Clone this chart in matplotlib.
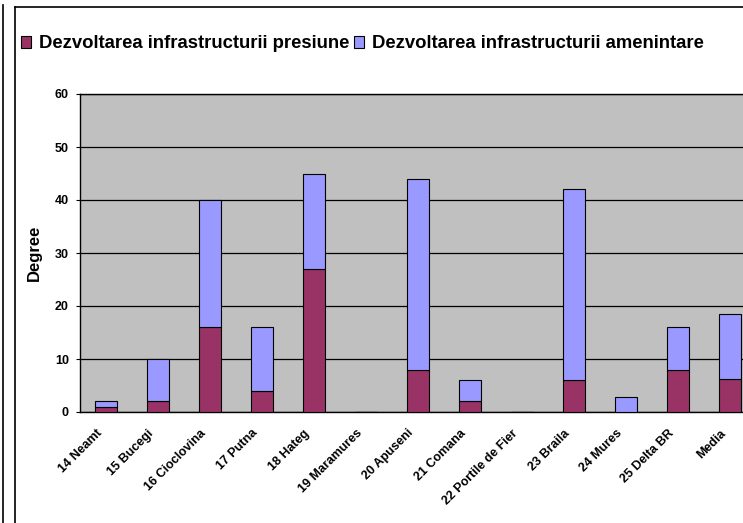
import matplotlib.pyplot as plt
import matplotlib.transforms as mtransforms
from matplotlib.patches import Patch
from matplotlib.lines import Line2D
import numpy as np

plt.rcParams['font.family'] = ['Liberation Sans', 'DejaVu Sans']

categories = ["14 Neamt", "15 Bucegi", "16 Cioclovina", "17 Putna", "18 Hateg",
              "19 Maramures", "20 Apuseni", "21 Comana", "22 Portile de Fier",
              "23 Braila", "24 Mures", "25 Delta BR", "Media"]
presiune = [1, 2, 16, 4, 27, 0, 8, 2, 0, 6, 0, 8, 6.2]
amenintare = [1, 8, 24, 12, 18, 0, 36, 4, 0, 36, 2.8, 8, 12.3]
yticks = [0, 10, 20, 30, 40, 50, 60]

W, H = 743, 523
fig = plt.figure(figsize=(W / 100, H / 100), dpi=100)
fig.patch.set_facecolor("white")

# plot area in pixels (right edge runs past the picture, as in the source)
left, right, top, bottom = 80, 756, 94, 412
ax = fig.add_axes([left / W, 1 - bottom / H, (right - left) / W, (bottom - top) / H])
ax.set_facecolor("#C0C0C0")

x = np.arange(len(categories))
ax.bar(x, presiune, width=0.42, color="#993366", edgecolor="black", linewidth=0.8, zorder=3)
ax.bar(x, amenintare, width=0.42, bottom=presiune, color="#9999FF",
       edgecolor="black", linewidth=0.8, zorder=3)

ax.set_xlim(-0.5, len(categories) - 0.5)
ax.set_ylim(0, 60)
ax.set_yticks(yticks)
ax.set_yticklabels([str(v) for v in yticks], fontsize=9, fontweight="bold")
ax.yaxis.grid(True, color="black", linewidth=0.9, zorder=1)
ax.set_axisbelow(True)
ax.tick_params(axis="y", length=3, width=0.8, pad=5)

ax.set_xticks(x)
ax.set_xticklabels(categories, rotation=45, ha="right", va="center",
                   rotation_mode="anchor", fontsize=9, fontweight="bold")
ax.tick_params(axis="x", length=0, pad=14)
# nudge the slanted labels a little left, like Excel does
shift = mtransforms.ScaledTranslation(-6 / 100, 0, fig.dpi_scale_trans)
for lbl in ax.get_xticklabels():
    lbl.set_transform(lbl.get_transform() + shift)

ax.spines["right"].set_visible(False)
for side in ("left", "bottom", "top"):
    ax.spines[side].set_color("black")
    ax.spines[side].set_linewidth(1.0)

ax.set_ylabel("Degree", fontsize=12, fontweight="bold", labelpad=9)

handles = [Patch(facecolor="#993366", edgecolor="black", linewidth=0.8),
           Patch(facecolor="#9999FF", edgecolor="black", linewidth=0.8)]
labels = ["Dezvoltarea infrastructurii presiune", "Dezvoltarea infrastructurii amenintare"]
fig.legend(handles, labels, loc="center left", bbox_to_anchor=(21 / W, 1 - 44 / H),
           ncol=2, frameon=False, prop={"size": 13.3, "weight": "bold"},
           handlelength=0.55, handleheight=0.65, handletextpad=0.45,
           columnspacing=0.2, borderaxespad=0, borderpad=0)

# outer frame lines of the chart object
fig.add_artist(Line2D([3 / W, 3 / W], [0, 1 - 5 / H], color="black", lw=1.2,
                      transform=fig.transFigure))
fig.add_artist(Line2D([15 / W, 15 / W], [0, 1 - 7 / H], color="black", lw=1.2,
                      transform=fig.transFigure))
fig.add_artist(Line2D([15 / W, 1], [1 - 7 / H, 1 - 7 / H], color="black", lw=1.2,
                      transform=fig.transFigure))

fig.savefig("out.png", dpi=100)
